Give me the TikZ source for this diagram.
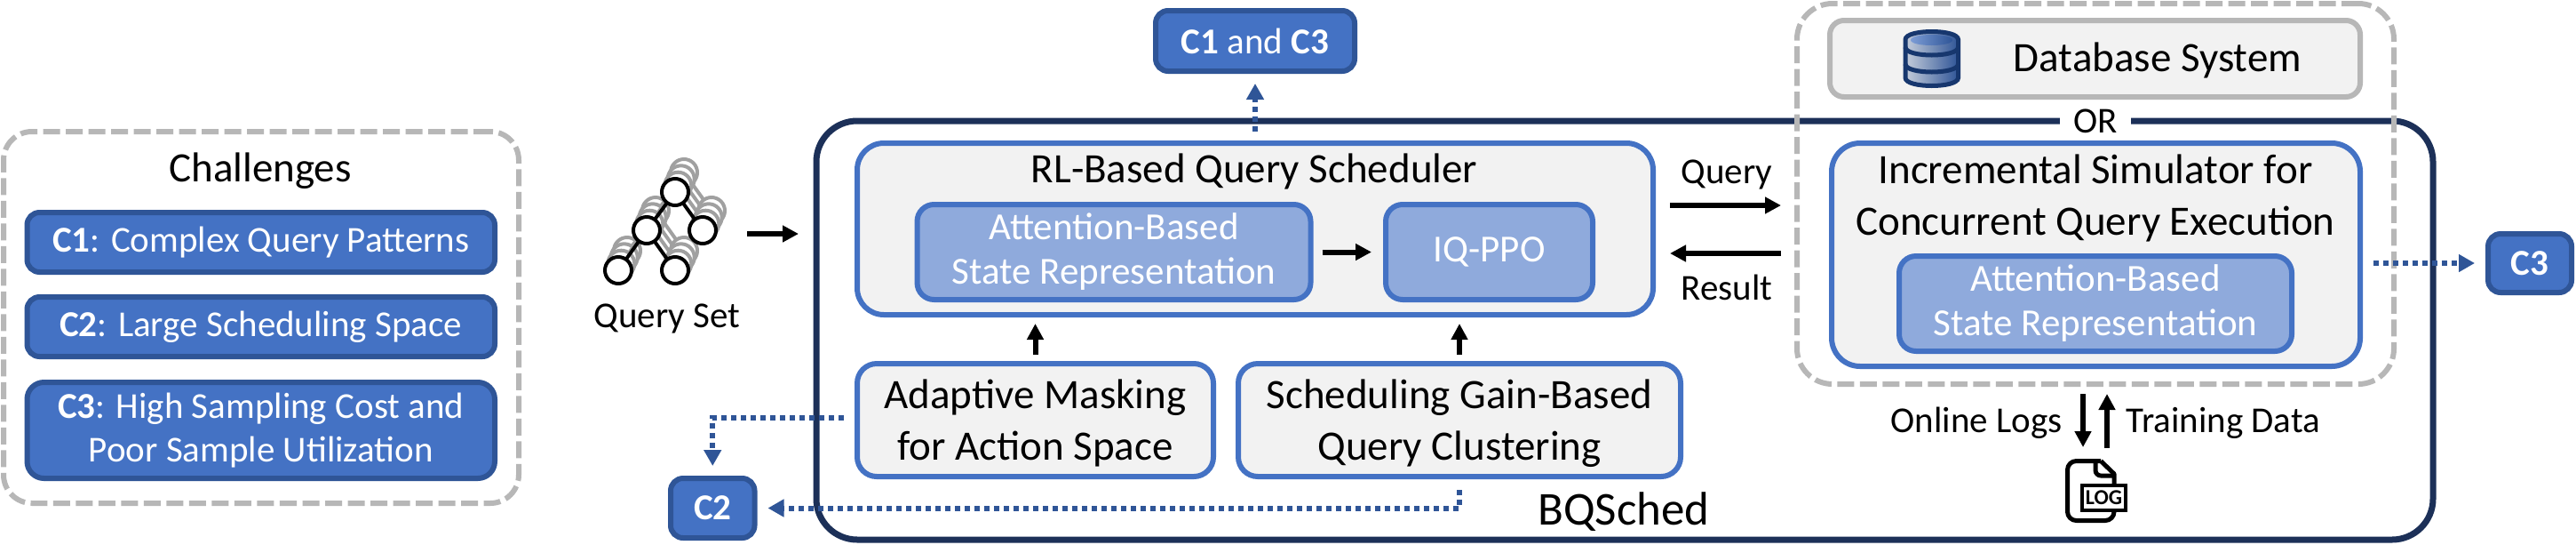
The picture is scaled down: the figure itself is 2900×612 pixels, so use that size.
\documentclass[tikz,border=0pt]{standalone}
\usepackage{fontspec}
\setmainfont{Carlito}
\usetikzlibrary{arrows.meta,calc}
\definecolor{cblue}{HTML}{4472C4}
\definecolor{cdark}{HTML}{2F5597}
\definecolor{clight}{HTML}{8FAADC}
\definecolor{cgray}{HTML}{B7B7B7}
\definecolor{cpanel}{HTML}{F2F2F2}
\definecolor{cnavy}{HTML}{1C3058}
\definecolor{cicon}{HTML}{17376E}
\definecolor{cstack}{HTML}{A0A0A0}
\tikzset{
  spanbox/.style n args={4}{at={({(#1+#3)/2},{(#2+#4)/2})},minimum width={(#3-#1)*0.5pt},minimum height={(#4-#2)*0.5pt}},
  base/.style={rectangle,inner sep=0pt,outer sep=0pt,align=center},
  tbig/.style={font=\fontsize{23.5}{29}\selectfont},
  tmid/.style={font=\fontsize{21.5}{25}\selectfont},
  tsmall/.style={font=\fontsize{20.5}{24.5}\selectfont},
  chal/.style={base,draw=cdark,fill=cblue,line width=3pt,text=white,tsmall},
  panel/.style={base,draw=cblue,fill=cpanel,line width=3pt,tbig},
  inner/.style={base,draw=cblue,fill=clight,line width=3pt,text=white,tmid},
  dashbox/.style={base,draw=cgray,line width=3pt,dash pattern=on 9.5pt off 3.25pt,rounded corners=16pt},
  solidarrow/.style={draw=black,line width=3pt,-{Triangle[length=9pt,width=9pt]}},
  dotarrow/.style={draw=cdark,line width=3pt,dash pattern=on 3pt off 2.5pt,-{Triangle[length=9pt,width=9.5pt]}},
  qnode/.style={circle,draw=#1,fill=white,line width=2pt,minimum size=15pt,inner sep=0pt,outer sep=0pt},
}
\begin{document}
\begin{tikzpicture}[x=0.5pt,y=-0.5pt]
\useasboundingbox (0,0) rectangle (2900,612);
\fill[white] (0,0) rectangle (2900,612);

% main frame
\node[base,spanbox={919}{136}{2739}{607},draw=cnavy,line width=3.5pt,rounded corners=23pt] (main) {};
\node[base,fill=white,tsmall,minimum width=40pt,minimum height=20pt] (orlabel) at (2359,136) {OR};
\node[base,font=\fontsize{26.5}{30}\selectfont] (bqsched) at (1828,576) {BQSched};

% challenges
\node[dashbox,spanbox={4}{148}{584}{566}] (chalbox) {};
\node[base,tbig] (chaltitle) at (293,192) {Challenges};
\node[chal,spanbox={30.5}{239}{557}{306},rounded corners=7pt] (c1long) {\textbf{C1}: Complex Query Patterns};
\node[chal,spanbox={30.5}{334}{557}{401},rounded corners=7pt] (c2long) {\textbf{C2}: Large Scheduling Space};
\node[chal,spanbox={30.5}{430}{557}{538},rounded corners=9.5pt] (c3long) {\textbf{C3}: High Sampling Cost and\\Poor Sample Utilization};

% query set icon
\foreach \k/\dx/\dy in {3/10/-22,2/6.7/-14.7,1/3.3/-7.3}{
  \begin{scope}[shift={(\dx,\dy)}]
    \node[qnode=cstack] (s1) at (760,216) {};
    \node[qnode=cstack] (s2) at (728,259) {};
    \node[qnode=cstack] (s3) at (791,259) {};
    \node[qnode=cstack] (s4) at (696,304) {};
    \node[qnode=cstack] (s5) at (760,304) {};
    \draw[cstack,line width=2pt] (s1)--(s2) (s1)--(s3) (s2)--(s4) (s2)--(s5);
  \end{scope}
}
\node[qnode=black] (q1) at (760,216) {};
\node[qnode=black] (q2) at (728,259) {};
\node[qnode=black] (q3) at (791,259) {};
\node[qnode=black] (q4) at (696,304) {};
\node[qnode=black] (q5) at (760,304) {};
\draw[black,line width=2pt] (q1)--(q2) (q1)--(q3) (q2)--(q4) (q2)--(q5);
\node[base,tsmall] (qset) at (751,358) {Query Set};
\coordinate (qout) at (841,263);
\draw[solidarrow,shorten >=10pt] (qout) -- (qout -| main.west);

% scheduler
\node[panel,spanbox={965}{161}{1861}{354},rounded corners=15pt] (rl) {};
\node[base,tbig] (rltitle) at (1412,193) {RL-Based Query Scheduler};
\node[inner,spanbox={1032.5}{230}{1475.5}{337},rounded corners=9.5pt] (attn) {Attention-Based\\State Representation};
\node[inner,spanbox={1560}{230}{1793}{337},rounded corners=9.5pt] (iq) {IQ-PPO};
\draw[solidarrow,shorten <=6.5pt,shorten >=8pt] (attn.east) -- (iq.west);

\node[panel,spanbox={965}{409}{1366}{536},rounded corners=11pt] (mask) {\rule{0pt}{20pt}Adaptive Masking\\for Action Space};
\node[panel,spanbox={1394}{409}{1892}{536},rounded corners=11pt] (sched) {\rule{0pt}{20pt}Scheduling Gain-Based\\Query Clustering};
\draw[solidarrow,shorten <=5pt,shorten >=5pt] (mask.north) -- (mask.north |- rl.south);
\draw[solidarrow,shorten <=5pt,shorten >=5pt] (sched.north) -- (sched.north |- rl.south);

% environment
\node[panel,spanbox={2060}{23}{2657}{109},draw=cgray,rounded corners=8pt] (db) {};
\node[base,tbig] (dbtext) at (2429,68) {Database System};
\shade[left color=cicon!25,right color=cdark] (2145,44.5) -- (2145,87.5) .. controls (2145,99.5) and (2204.5,99.5) .. (2204.5,87.5) -- (2204.5,44.5) .. controls (2204.5,32.5) and (2145,32.5) .. (2145,44.5) -- cycle;
\shade[left color=cblue!70,right color=cdark] (2151,45) .. controls (2151,37) and (2198,37) .. (2198,45) .. controls (2198,53) and (2151,53) .. (2151,45) -- cycle;
\draw[cicon,line width=2.5pt] (2145,44.5) -- (2145,87.5) .. controls (2145,99.5) and (2204.5,99.5) .. (2204.5,87.5) -- (2204.5,44.5) .. controls (2204.5,32.5) and (2145,32.5) .. (2145,44.5) -- cycle;
\draw[cicon,line width=2.5pt] (2145,53) .. controls (2145,65) and (2204.5,65) .. (2204.5,53);
\draw[cicon,line width=2.5pt] (2145,72) .. controls (2145,84) and (2204.5,84) .. (2204.5,72);

\node[panel,spanbox={2062}{161}{2657}{412},rounded corners=16pt] (inc) {};
\node[base,tbig] (inctitle) at (2359,222.5) {Incremental Simulator for\\Concurrent Query Execution};
\node[inner,spanbox={2138}{288}{2580}{395},rounded corners=9.5pt] (attnb) {Attention-Based\\State Representation};
\node[dashbox,spanbox={2023}{4}{2695}{432},rounded corners=20pt] (envbox) {};

\coordinate (qy) at (1950,231);
\coordinate (ry) at (1950,285);
\node[base,tsmall] (querylabel) at (1944,196) {Query};
\node[base,tsmall] (resultlabel) at (1944,323) {Result};
\draw[solidarrow,shorten <=9.5pt,shorten >=28.5pt] (rl.east |- qy) -- (inc.west |- qy);
\draw[solidarrow,shorten <=28.5pt,shorten >=9.5pt] (inc.west |- ry) -- (rl.east |- ry);

% log icon
\coordinate (logtop) at (2358,518);
\draw[black,line width=2.5pt,line join=round,rounded corners=5pt] (2380,576) -- (2380,585.5) -- (2327.5,585.5) -- (2327.5,518.5) -- (2365,518.5);
\draw[black,line width=2.5pt,line join=round] (2365,518.5) -- (2380,533) -- (2380,545);
\draw[black,line width=2.5pt,line join=round,rounded corners=3pt] (2359,519) -- (2359,535) -- (2380,535);
\node[base,draw=black,fill=white,line width=2pt,spanbox={2344}{546}{2393}{574},font=\bfseries\fontsize{12}{12}\selectfont] (logicon) {LOG};

\coordinate (dnx) at (2345,443);
\coordinate (upx) at (2372,443);
\draw[solidarrow,shorten <=15.5pt,shorten >=7.5pt] (inc.south -| dnx) -- (logtop -| dnx);
\draw[solidarrow,shorten <=7pt,shorten >=15.5pt] (logtop -| upx) -- (inc.south -| upx);
\node[base,tsmall] (onlinelogs) at (2225,476) {Online Logs};
\node[base,tsmall] (trainingdata) at (2503,476) {Training Data};

% challenge tags
\node[chal,spanbox={1301}{12}{1525}{80},rounded corners=7pt] (c13) {\textbf{C1} and \textbf{C3}};
\node[chal,spanbox={755}{538}{849.5}{605},rounded corners=7pt] (c2) {\textbf{C2}};
\node[chal,spanbox={2801}{263}{2895}{329},rounded corners=7pt] (c3) {\textbf{C3}};

\draw[dotarrow,shorten <=6.5pt,shorten >=7pt] (rl.north) -- (c13.south);
\draw[dotarrow,shorten <=7.5pt,shorten >=7.5pt] (inc.east |- c3.west) -- (c3.west);
\draw[dotarrow,shorten <=7.5pt,shorten >=7pt] ([yshift=1.25pt]mask.west) -- ([yshift=1.25pt]mask.west -| c2.north) -- (c2.north);
\draw[dotarrow,shorten <=7.5pt,shorten >=7.5pt] (sched.south) -- (sched.south |- c2.east) -- (c2.east);
\end{tikzpicture}
\end{document}
